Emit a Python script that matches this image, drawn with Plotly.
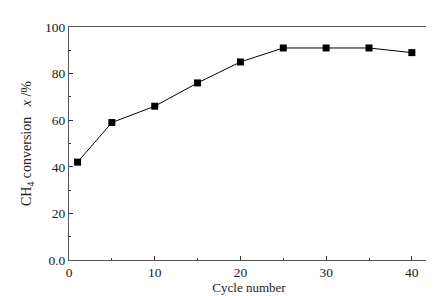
import plotly.graph_objects as go

cycles = [1, 5, 10, 15, 20, 25, 30, 35, 40]
conversion = [42, 59, 66, 76, 85, 91, 91, 91, 89]
y_tick_vals = [0, 20, 40, 60, 80, 100]
y_tick_text = ["0.0", "20", "40", "60", "80", "100"]
x_tick_vals = [0, 10, 20, 30, 40]

fig = go.Figure()
fig.add_trace(go.Scatter(
    x=cycles, y=conversion, mode="lines+markers",
    line=dict(color="black", width=1),
    marker=dict(symbol="square", size=7, color="black"),
    showlegend=False,
))

font = dict(family="Liberation Serif, Times New Roman, serif", size=13, color="#222")

fig.update_layout(
    width=434, height=296,
    margin=dict(l=61, r=12, t=14, b=44),
    paper_bgcolor="white", plot_bgcolor="white",
    font=font,
)
fig.update_xaxes(
    range=[0, 42], tickvals=x_tick_vals, ticks="inside", ticklen=4, tickwidth=1,
    tickcolor="#333", tickfont=dict(size=13.5),
    minor=dict(ticks="inside", ticklen=2, tickcolor="#333", dtick=5, tick0=0),
    showline=True, linecolor="#555", linewidth=1, mirror=True, showgrid=False,
    zeroline=False,
    title=dict(text="Cycle number", standoff=2, font=dict(size=13)),
)
fig.update_yaxes(
    range=[0, 100], tickvals=y_tick_vals, ticktext=y_tick_text, ticks="inside",
    ticklen=4, tickwidth=1, tickcolor="#333", tickfont=dict(size=13.5),
    minor=dict(ticks="inside", ticklen=2, tickcolor="#333", dtick=10, tick0=0),
    showline=True, linecolor="#555", linewidth=1, mirror=True, showgrid=False,
    zeroline=False,
    title=dict(text="CH<sub>4</sub> conversion   <i>x</i> /%", standoff=10,
               font=dict(size=14)),
)
fig.write_html("out.html")
